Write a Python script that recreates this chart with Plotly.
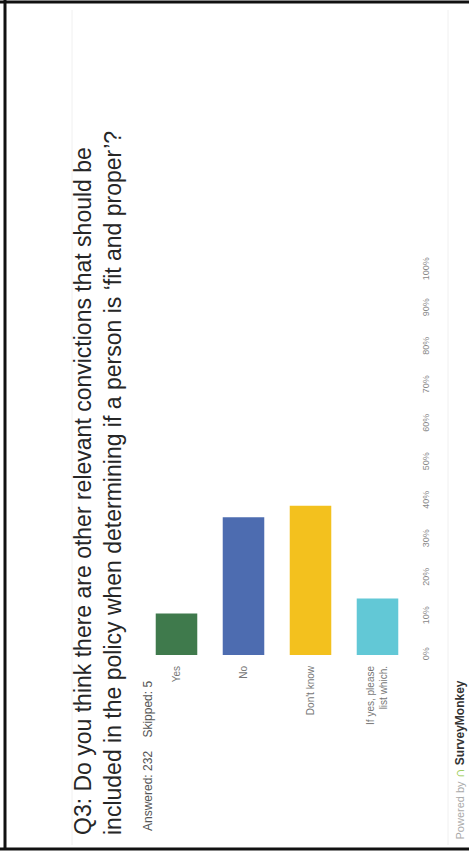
import plotly.graph_objects as go

categories = ["Yes", "No", "Don't know", "If yes, please<br>list which."]
values = [10.78, 35.78, 38.79, 14.66]
bar_colors = ["#3f7a4c", "#4d6cb0", "#f3c11e", "#62c8d6"]
tick_vals = [0, 10, 20, 30, 40, 50, 60, 70, 80, 90, 100]
tick_text = ["0%", "10%", "20%", "30%", "40%", "50%", "60%", "70%", "80%", "90%", "100%"]

title_text = ("Q3: Do you think there are other relevant convictions that should be<br>"
              "included in the policy when determining if a person is \u2018fit and proper\u2019?")
answered_text = "Answered: 232&nbsp;&nbsp;&nbsp;&nbsp;Skipped: 5"

W, H = 469, 853
L, R, T, B = 143, 58, 270, 198
PW, PH = W - L - R, H - T - B


def px(x):
    return (x - L) / PW


def py(y):
    return (H - B - y) / PH


fig = go.Figure()
fig.add_trace(go.Bar(
    x=categories, y=values,
    marker=dict(color=bar_colors, line=dict(width=0)),
    width=0.62, hoverinfo="skip",
))

fig.update_layout(
    width=W, height=H,
    margin=dict(l=L, r=R, t=T, b=B),
    paper_bgcolor="white", plot_bgcolor="white",
    showlegend=False,
    font=dict(family="Liberation Sans, Arial, sans-serif"),
    xaxis=dict(
        tickangle=-90, tickfont=dict(size=10, color="#777777"),
        showgrid=False, showline=False, zeroline=False, ticks="",
        range=[-0.5, 3.5], ticklabelstandoff=8,
    ),
    yaxis=dict(
        side="right", range=[0, 100], tickvals=tick_vals, ticktext=tick_text,
        tickangle=-90, tickfont=dict(size=9, color="#888888"),
        showgrid=False, zeroline=False, showline=False, ticks="",
        ticklabelstandoff=8,
    ),
)

annotations = [
    dict(text=title_text, textangle=-90, x=px(98), y=py(837), xref="paper", yref="paper",
         xanchor="center", yanchor="bottom", align="left", showarrow=False,
         font=dict(size=23, color="#262626", family="Liberation Sans, Arial, sans-serif")),
    dict(text=answered_text, textangle=-90, x=px(148), y=py(833), xref="paper", yref="paper",
         xanchor="center", yanchor="bottom", showarrow=False,
         font=dict(size=12, color="#555555")),
    dict(text="<span style='color:#aaaaaa;font-size:11px'>Powered by </span>"
              "<span style='color:#8cc63f;font-size:14px'><b>\u2229</b></span> "
              "<b><span style='color:#333333;font-size:12px'>SurveyMonkey</span></b>",
         textangle=-90, x=px(458), y=py(842), xref="paper", yref="paper",
         xanchor="center", yanchor="bottom", showarrow=False,
         font=dict(size=11, color="#333333")),
]
fig.update_layout(annotations=annotations)

shapes = [
    # page frame (scanned sheet border)
    dict(type="line", xref="paper", yref="paper", x0=px(0), x1=px(469), y0=py(2), y1=py(2),
         line=dict(color="#111111", width=3)),
    dict(type="line", xref="paper", yref="paper", x0=px(5), x1=px(5), y0=py(0), y1=py(849),
         line=dict(color="#111111", width=3)),
    dict(type="line", xref="paper", yref="paper", x0=px(0), x1=px(469), y0=py(849), y1=py(849),
         line=dict(color="#111111", width=3)),
    # faint slide edges
    dict(type="line", xref="paper", yref="paper", x0=px(72), x1=px(72), y0=py(10), y1=py(845),
         line=dict(color="#f0f0f0", width=1)),
    dict(type="line", xref="paper", yref="paper", x0=px(448), x1=px(448), y0=py(10), y1=py(845),
         line=dict(color="#f0f0f0", width=1)),
]
fig.update_layout(shapes=shapes)

fig.write_html("out.html")
